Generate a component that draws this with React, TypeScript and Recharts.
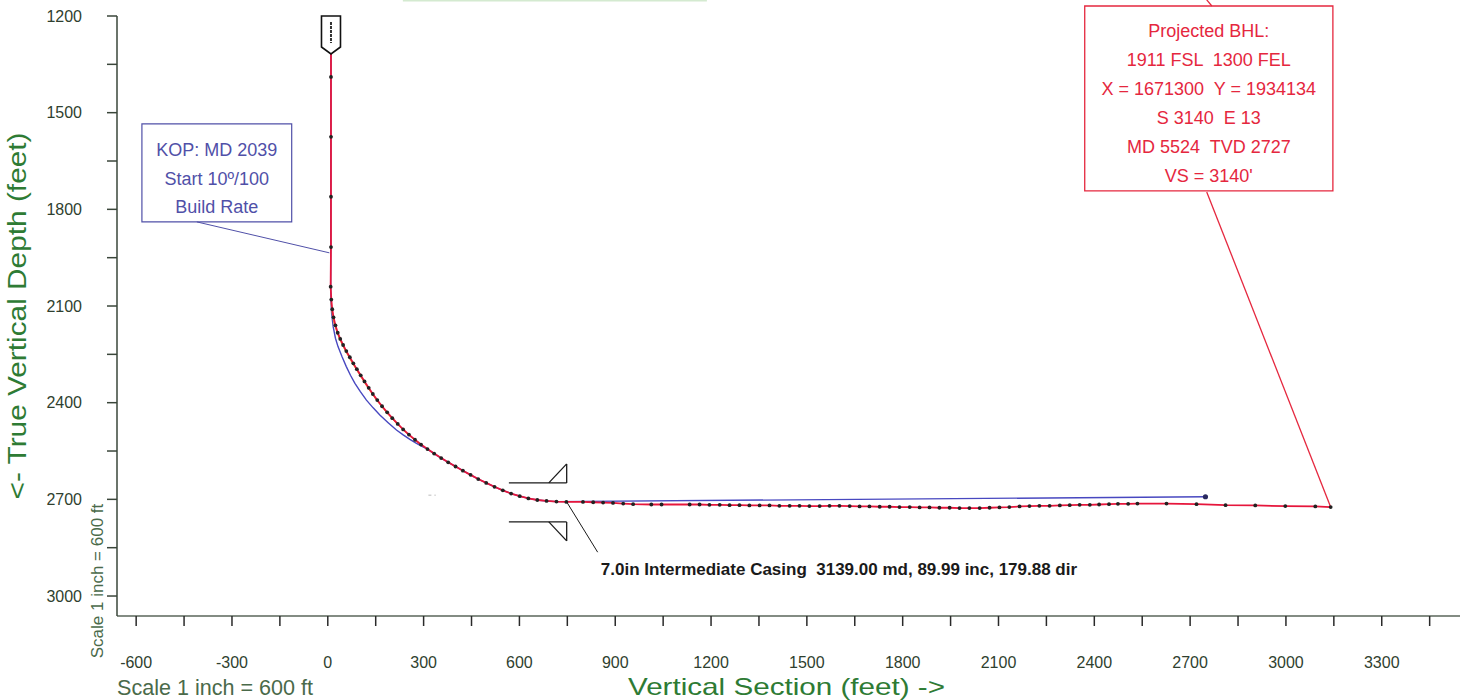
import React from 'react';
import { ComposedChart, Line, XAxis, YAxis, ReferenceArea, ReferenceLine, ReferenceDot } from 'recharts';

// ---------- axis ticks ----------
const xTicks = [-600, -450, -300, -150, 0, 150, 300, 450, 600, 750, 900, 1050, 1200, 1350, 1500, 1650, 1800, 1950, 2100, 2250, 2400, 2550, 2700, 2850, 3000, 3150, 3300, 3450];
const yTicks = [1200, 1350, 1500, 1650, 1800, 1950, 2100, 2250, 2400, 2550, 2700, 2850, 3000];

// ---------- actual survey (red) ----------
const actualVS = [10, 10, 10, 10, 10, 9, 11, 14, 18, 24, 31, 39, 48, 58, 69, 80, 91, 103, 115, 128, 141, 155, 170, 186, 202, 219, 236, 254, 273, 292, 312, 333, 355, 377, 400, 423, 447, 471, 496, 522, 548, 574, 601, 628, 656, 685, 716, 747, 799, 831, 862, 893, 925, 956, 1013, 1045, 1133, 1164, 1195, 1227, 1258, 1289, 1320, 1352, 1383, 1414, 1446, 1477, 1508, 1540, 1571, 1602, 1634, 1665, 1696, 1728, 1759, 1790, 1822, 1853, 1884, 1915, 1947, 1978, 2009, 2041, 2072, 2103, 2134, 2166, 2197, 2228, 2260, 2292, 2323, 2354, 2386, 2415, 2446, 2474, 2506, 2535, 2626, 2720, 2811, 2904, 2998, 3092, 3140];
const actualTVD = [1318, 1389, 1575, 1761, 1917, 2040, 2080, 2110, 2135, 2160, 2183, 2202, 2221, 2240, 2259, 2278, 2296, 2315, 2334, 2354, 2373, 2392, 2411, 2430, 2448, 2466, 2483, 2499, 2515, 2530, 2544, 2558, 2572, 2585, 2598, 2611, 2624, 2637, 2649, 2661, 2672, 2682, 2690, 2697, 2702, 2705, 2707, 2708, 2708, 2709, 2710, 2711, 2713, 2715, 2716, 2716, 2716, 2716, 2717, 2717, 2718, 2718, 2719, 2719, 2719, 2720, 2720, 2720, 2721, 2721, 2720, 2720, 2721, 2722, 2722, 2723, 2723, 2724, 2724, 2725, 2725, 2726, 2726, 2727, 2727, 2727, 2726, 2725, 2724, 2722, 2721, 2720, 2720, 2719, 2718, 2717, 2717, 2716, 2715, 2714, 2714, 2713, 2713, 2715, 2718, 2719, 2721, 2722, 2724];

// ---------- well plan (blue) ----------
const planVS = [10, 9, 10, 12, 17, 24, 32, 45, 58, 71, 85, 102, 121, 142, 163, 189, 215, 236, 257, 275, 292, 312, 333, 355, 377, 400, 423, 447, 471, 496, 522, 548, 574, 601, 628, 656, 685, 716, 2748];
const planTVD = [1318, 2040, 2085, 2123, 2165, 2200, 2226, 2258, 2288, 2315, 2340, 2366, 2392, 2416, 2438, 2462, 2485, 2500, 2514, 2525, 2534, 2544, 2558, 2572, 2585, 2598, 2611, 2624, 2637, 2649, 2661, 2672, 2682, 2690, 2697, 2702, 2705, 2707, 2692];

// ---------- thin orange trace along the build ----------
const traceVS = [10, 15, 21, 36, 55, 77, 100, 125, 152, 183, 216, 251, 289];
const traceTVD = [2090, 2135, 2160, 2202, 2240, 2278, 2315, 2354, 2392, 2430, 2466, 2499, 2530];

// ---------- texts ----------
const kopLines = ['KOP: MD 2039', 'Start 10\u00BA/100', 'Build Rate'];
const bhlLines = ['Projected BHL:', '1911 FSL  1300 FEL', 'X = 1671300  Y = 1934134', 'S 3140  E 13', 'MD 5524  TVD 2727', "VS = 3140'"];
const casingText = '7.0in Intermediate Casing  3139.00 md, 89.99 inc, 179.88 dir';
const xTitle = 'Vertical Section (feet) ->';
const yTitle = '<- True Vertical Depth (feet)';
const scaleText = 'Scale 1 inch = 600 ft';

// ---------- styles ----------
const RED = '#e6163c';
const BLUE = '#4848c0';
const ORANGE = '#e8a030';
const KOP_BLUE = '#5050a8';
const BHL_RED = '#e5273e';
const GREEN = '#2e7b34';
const TICK_TXT = '#2f3f2f';
const AXIS = '#3a463a';
const SCALE_TXT = '#4a6a4a';

const actual = actualVS.map((vs, i) => ({ vs, tvd: actualTVD[i] }));
const plan = planVS.map((vs, i) => ({ vs, tvd: planTVD[i] }));
const trace = traceVS.map((vs, i) => ({ vs, tvd: traceTVD[i] }));

const fmtX = (v: number) => (v % 300 === 0 ? String(v) : '');
const fmtY = (v: number) => (v % 300 === 0 ? String(v) : '');

const boxText = (lines: string[], color: string, first: number, step: number, size: number) => (p: any) => {
  const vb = p.viewBox || { x: 0, y: 0, width: 0, height: 0 };
  const cx = vb.x + vb.width / 2;
  return (
    <text textAnchor="middle" fill={color} fontSize={size} style={{ whiteSpace: 'pre' }}>
      {lines.map((l, i) => (
        <tspan key={i} x={cx} y={vb.y + first + i * step}>{l}</tspan>
      ))}
    </text>
  );
};

const YTitle = (p: any) => {
  const vb = p.viewBox || { x: 0, y: 16, width: 117, height: 600 };
  const tx = vb.x + 26, ty = vb.y + 300;
  const sx = vb.x + 103, sy = vb.y + 565;
  return (
    <g>
      <text x={tx} y={ty} transform={`rotate(-90 ${tx} ${ty})`} textAnchor="middle" fontSize={26} fill={GREEN} textLength={367} lengthAdjust="spacingAndGlyphs">{yTitle}</text>
      <text x={sx} y={sy} transform={`rotate(-90 ${sx} ${sy})`} textAnchor="middle" fontSize={17} fill={SCALE_TXT}>{scaleText}</text>
    </g>
  );
};

const XTitle = (p: any) => {
  const vb = p.viewBox || { x: 117, y: 616, width: 1343, height: 84 };
  return (
    <g>
      <text x={vb.x + 669.5} y={vb.y + 78.5} textAnchor="middle" fontSize={24} fill={GREEN} textLength={317} lengthAdjust="spacingAndGlyphs">{xTitle}</text>
      <text x={vb.x} y={vb.y + 79} textAnchor="start" fontSize={21.5} fill={SCALE_TXT} textLength={196} lengthAdjust="spacingAndGlyphs">{scaleText}</text>
    </g>
  );
};

const WellHead = (p: any) => {
  const { cx, cy } = p;
  const w = 9.5;
  return (
    <g>
      <path d={`M${cx - w},${cy} L${cx + w},${cy} L${cx + w},${cy + 31} L${cx},${cy + 38} L${cx - w},${cy + 31} Z`} fill="#fff" stroke="#111" strokeWidth={1.6} />
      <line x1={cx} x2={cx} y1={cy + 6} y2={cy + 27} stroke="#333" strokeWidth={2} strokeDasharray="3 1" />
    </g>
  );
};

const CasingLabel = (p: any) => (
  <text x={p.cx} y={p.cy} fontSize={17} fontWeight="bold" fill="#1a1a1a" style={{ whiteSpace: 'pre' }}>{casingText}</text>
);

const actualDot = (p: any) => {
  if (p.index === 0) return <g key={`d${p.index}`} />;
  return <circle key={`d${p.index}`} cx={p.cx} cy={p.cy} r={1.9} fill="#222" />;
};
const planDot = (p: any) => {
  if (p.index !== plan.length - 1) return <g key={`p${p.index}`} />;
  return <circle key={`p${p.index}`} cx={p.cx} cy={p.cy} r={2.6} fill="#2a2a60" />;
};

// annotation geometry in data units (VS ft, TVD ft)
const KOP_BOX = { x1: -582, x2: -113, y1: 1535, y2: 1839 };
const BHL_BOX = { x1: 2370, x2: 3147, y1: 1169, y2: 1743 };
const seg = (a: number, b: number, c: number, d: number) => [{ x: a, y: b }, { x: c, y: d }];
const casingSegs = [
  seg(567, 2649, 748, 2649), seg(692, 2649, 748, 2590), seg(748, 2590, 748, 2649),
  seg(567, 2770, 748, 2770), seg(692, 2770, 748, 2829), seg(748, 2770, 748, 2829),
];

export default function App() {
  return (
    <div style={{ position: 'absolute', left: 0, top: 0, width: 1466, height: 700, background: '#fff', fontFamily: '"Liberation Sans", Arial, Helvetica, sans-serif' }}>
      <ComposedChart width={1466} height={700} margin={{ top: 16, right: 6, bottom: 0, left: 0 }}>
        <XAxis
          type="number" dataKey="vs" domain={[-660, 3545]} allowDataOverflow ticks={xTicks} interval={0}
          tickFormatter={fmtX} height={84} tickSize={10} tickMargin={31}
          axisLine={{ stroke: '#5a665a', strokeWidth: 1.5 }} tickLine={{ stroke: '#2a2a2a', strokeWidth: 1.5 }}
          tick={{ fill: TICK_TXT, fontSize: 16 }} label={XTitle}
        />
        <YAxis
          type="number" domain={[1200, 3062]} reversed allowDataOverflow ticks={yTicks} interval={0}
          tickFormatter={fmtY} width={117} tickSize={10} tickMargin={25}
          axisLine={{ stroke: AXIS, strokeWidth: 1.5 }} tickLine={{ stroke: AXIS, strokeWidth: 1.5 }}
          tick={{ fill: TICK_TXT, fontSize: 16 }} label={YTitle}
        />

        <ReferenceLine segment={seg(235, 1152, 1187, 1152)} stroke="#d4ead0" strokeWidth={2} ifOverflow="visible" />
        <ReferenceLine segment={seg(315, 2687, 338, 2687)} stroke="#bbbbbb" strokeWidth={1} strokeDasharray="3 3" />

        <Line data={plan} dataKey="tvd" stroke={BLUE} strokeWidth={1.4} dot={planDot} activeDot={false} isAnimationActive={false} />
        <Line data={trace} dataKey="tvd" stroke={ORANGE} strokeWidth={1} dot={false} activeDot={false} isAnimationActive={false} />
        <Line data={actual} dataKey="tvd" stroke={RED} strokeWidth={1.8} dot={actualDot} activeDot={false} isAnimationActive={false} />

        <ReferenceArea {...KOP_BOX} fill="#fff" fillOpacity={0} stroke={KOP_BLUE} strokeWidth={1.2} ifOverflow="visible"
          label={boxText(kopLines, KOP_BLUE, 32.5, 28.3, 18)} />
        <ReferenceLine segment={seg(-410, 1839, 5, 1935)} stroke={KOP_BLUE} strokeWidth={1} ifOverflow="visible" />

        <ReferenceArea {...BHL_BOX} fill="#fff" fillOpacity={0} stroke={BHL_RED} strokeWidth={1.3} ifOverflow="visible"
          label={boxText(bhlLines, BHL_RED, 31, 29, 18)} />
        <ReferenceLine segment={seg(2752, 1746, 3140, 2724)} stroke={BHL_RED} strokeWidth={1.3} ifOverflow="visible" />
        <ReferenceLine segment={seg(2752, 1150, 2768, 1169)} stroke={BHL_RED} strokeWidth={1.3} ifOverflow="visible" />

        {casingSegs.map((s, i) => (
          <ReferenceLine key={`c${i}`} segment={s} stroke="#1a1a1a" strokeWidth={1.3} ifOverflow="visible" />
        ))}
        <ReferenceLine segment={seg(748, 2708, 845, 2864)} stroke="#1a1a1a" strokeWidth={1} ifOverflow="visible" />
        <ReferenceDot x={855} y={2935} r={0} shape={CasingLabel} ifOverflow="visible" />

        <ReferenceDot x={10} y={1200} r={0} shape={WellHead} ifOverflow="visible" />
      </ComposedChart>
    </div>
  );
}
